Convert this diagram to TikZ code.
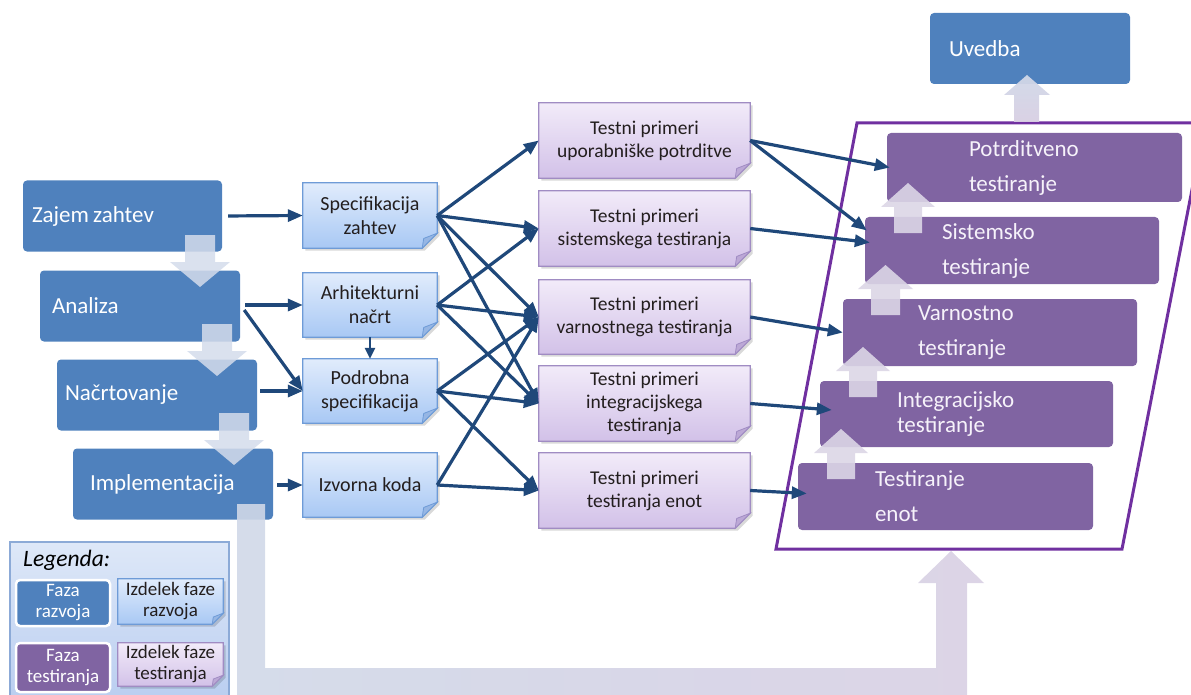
\documentclass[tikz,border=0pt]{standalone}
\usepackage{fontspec}
\setmainfont{Carlito}
\usetikzlibrary{calc,arrows.meta}
\pgfdeclarelayer{background}
\pgfsetlayers{background,main}

\definecolor{phaseblue}{RGB}{79,129,189}
\definecolor{testpurple}{RGB}{128,100,162}
\definecolor{frameviolet}{RGB}{112,48,160}
\definecolor{linkblue}{RGB}{31,72,122}
\definecolor{docbluetop}{RGB}{225,236,252}
\definecolor{docbluebot}{RGB}{168,200,244}
\definecolor{docblueline}{RGB}{110,155,215}
\definecolor{docbluefold}{RGB}{150,182,228}
\definecolor{docpurtop}{RGB}{242,235,249}
\definecolor{docpurbot}{RGB}{210,193,232}
\definecolor{docpurline}{RGB}{160,140,195}
\definecolor{docpurfold}{RGB}{188,168,214}
\definecolor{flowblue}{RGB}{208,216,232}
\definecolor{flowlilac}{RGB}{216,207,227}
\definecolor{chevronfill}{RGB}{212,220,235}
\definecolor{upfill}{RGB}{220,214,230}
\definecolor{legendtop}{RGB}{222,232,248}
\definecolor{legendbot}{RGB}{186,206,240}
\definecolor{legendline}{RGB}{140,170,215}
\definecolor{doctext}{RGB}{35,30,30}
\definecolor{lighttext}{RGB}{246,242,250}

% background of a document node: shadow, shaded sheet with a cut corner, folded flap
\newcommand{\docback}[3]{% #1 node name, #2 colour family, #3 fold size
  \begin{pgfonlayer}{background}
    \fill[black,opacity=0.15] ($(#1.north west)+(2.5,2.5)$) -- ($(#1.north east)+(2.5,2.5)$)
      -- ($(#1.south east)+(2.5,2.5-#3)$) -- ($(#1.south east)+(2.5-#3,2.5)$)
      -- ($(#1.south west)+(2.5,2.5)$) -- cycle;
    \shade[top color=#2top, bottom color=#2bot] (#1.north west) -- (#1.north east)
      -- ($(#1.south east)+(0,-#3)$) -- ($(#1.south east)+(-#3,0)$) -- (#1.south west) -- cycle;
    \draw[#2line, line width=1.2pt] (#1.north west) -- (#1.north east)
      -- ($(#1.south east)+(0,-#3)$) -- ($(#1.south east)+(-#3,0)$) -- (#1.south west) -- cycle;
    \filldraw[fill=#2fold, draw=#2line, line width=0.8pt] ($(#1.south east)+(-#3,0)$)
      -- ($(#1.south east)+(0,-#3)$) -- ($(#1.south east)+(-0.9*#3,-0.65*#3)$) -- cycle;
  \end{pgfonlayer}}

\tikzset{
  phasebox/.style={fill=phaseblue, rounded corners=4pt, text=white,
    font=\fontsize{23}{28}\selectfont, align=left, inner ysep=0pt,
    minimum height=71pt},
  testbox/.style={fill=testpurple, rounded corners=4pt, text=lighttext,
    font=\fontsize{23}{35}\selectfont, align=left, inner ysep=0pt,
    minimum height=68pt},
  devdoc/.style={text=doctext, align=center, inner sep=0pt,
    font=\fontsize{20}{24}\selectfont, minimum width=134pt, minimum height=64pt},
  testdoc/.style={text=doctext, align=center, inner sep=0pt,
    font=\fontsize{19.5}{23}\selectfont, minimum width=211pt, minimum height=75pt},
  legphase/.style={draw=white, line width=2.5pt, rounded corners=4pt, text=white,
    align=center, inner sep=0pt, font=\fontsize{19}{21}\selectfont,
    minimum width=94pt},
  legdoc/.style={text=doctext, align=center, inner sep=0pt,
    font=\fontsize{19}{21}\selectfont, minimum width=105pt},
  link/.style={draw=linkblue, line width=3.2pt, -{Triangle[length=15pt,width=12pt]}},
  chevron/.style={fill=chevronfill, opacity=0.85},
  upstep/.style={fill=upfill, opacity=0.9},
}

\begin{document}
\begin{tikzpicture}[x=1pt,y=-1pt]
\useasboundingbox (0,0) rectangle (1191,695);

% frame round the test phases
\draw[frameviolet, line width=3pt, line join=miter] (857,123) -- (1205,123) -- (1122,549) -- (776,549) -- cycle;

% development phases
\node[phasebox, inner xsep=9pt,  text width=181pt] (z) at (122.5,216) {Zajem\hspace{0.18em}zahtev};
\node[phasebox, inner xsep=12pt, text width=176pt] (a) at (140,306) {Analiza};
\node[phasebox, inner xsep=8pt,  text width=184pt] (n) at (157,395) {Načrtovanje};
\node[phasebox, inner xsep=17pt, text width=166pt] (i) at (173,484) {Implementacija};

% flow between development phases
\fill[chevron] (185,235) -- (215,235) -- (215,262) -- (230,262) -- (200,287) -- (170,262) -- (185,262) -- cycle;
\fill[chevron] (202,324) -- (232,324) -- (232,351) -- (247,351) -- (217,376) -- (187,351) -- (202,351) -- cycle;
\fill[chevron] (219,413) -- (249,413) -- (249,440) -- (264,440) -- (234,465) -- (204,440) -- (219,440) -- cycle;

% test phases
\node[testbox, inner xsep=82pt, text width=131pt, minimum height=69pt] (p1) at (1034.5,167.5) {Potrditveno\\testiranje};
\node[testbox, inner xsep=77pt, text width=140pt, minimum height=67pt] (p2) at (1012,250.5) {Sistemsko\\testiranje};
\node[testbox, inner xsep=75pt, text width=144pt, minimum height=67pt] (p3) at (990,332.5) {Varnostno\\testiranje};
\node[testbox, inner xsep=77pt, text width=139pt, minimum height=66pt,
      font=\fontsize{23}{25}\selectfont] (p4) at (966.5,414) {Integracijsko\\testiranje};
\node[testbox, inner xsep=77pt, text width=141pt, minimum height=67pt] (p5) at (945.5,496.5) {Testiranje\\enot};

% flow between test phases
\fill[upstep] (894,233) -- (922,233) -- (922,207) -- (935,207) -- (908,183) -- (881,207) -- (894,207) -- cycle;
\fill[upstep] (871,315) -- (900,315) -- (900,289) -- (913,289) -- (885.5,265) -- (858,289) -- (871,289) -- cycle;
\fill[upstep] (849,397) -- (877,397) -- (877,371) -- (890,371) -- (863,347) -- (836,371) -- (849,371) -- cycle;
\fill[upstep] (827,479) -- (855,479) -- (855,453) -- (868,453) -- (841,429) -- (814,453) -- (827,453) -- cycle;

% deployment
\node[phasebox, inner xsep=19pt, text width=162pt] (u) at (1030,48.5) {Uvedba};
\shade[top color=flowblue, bottom color=flowlilac, opacity=0.95]
  (1014,122) -- (1039,122) -- (1039,95) -- (1050,95) -- (1027,75) -- (1004,95) -- (1014,95) -- cycle;

% implementation feeding the test phases
\shade[left color=flowblue, right color=flowlilac, opacity=0.9]
  (237,504) -- (265,504) -- (265,668) -- (936,668) -- (936,583) -- (918,583) -- (951,551)
  -- (984,583) -- (967,583) -- (967,695) -- (237,695) -- cycle;

% development artefacts
\node[devdoc, minimum height=65pt] (d1) at (370,215.5) {Specifikacija\\zahtev};
\node[devdoc] (d2) at (370,305) {Arhitekturni\\načrt};
\node[devdoc] (d3) at (370,391) {Podrobna\\specifikacija};
\node[devdoc] (d4) at (370,485) {Izvorna koda};
\foreach \d in {d1,d2,d3,d4} {\docback{\d}{docblue}{15}}

% test artefacts
\node[testdoc] (t1) at (644.5,140.5) {Testni primeri\\uporabniške potrditve};
\node[testdoc] (t2) at (644.5,228.5) {Testni primeri\\sistemskega testiranja};
\node[testdoc, minimum height=74pt] (t3) at (644.5,317) {Testni primeri\\varnostnega testiranja};
\node[testdoc] (t4) at (644.5,403.5) {Testni primeri\\integracijskega\\testiranja};
\node[testdoc] (t5) at (644.5,490.5) {Testni primeri\\testiranja enot};
\foreach \t in {t1,t2,t3,t4,t5} {\docback{\t}{docpur}{15}}

% legend
\begin{pgfonlayer}{background}
  \shade[top color=legendtop, bottom color=legendbot] (10,542) rectangle (229,698);
  \draw[legendline, line width=1.2pt] (10,698) -- (10,542) -- (229,542) -- (229,698);
\end{pgfonlayer}
\node[anchor=west, font=\fontsize{23.5}{27}\selectfont\itshape, text=black, inner sep=0pt] (legtitle) at (23,560) {Legenda:};
\node[legphase, fill=phaseblue, minimum height=46pt] (l1) at (63,603) {Faza\\razvoja};
\node[legdoc, minimum height=45pt] (l2) at (170.5,601.5) {Izdelek faze\\razvoja};
\node[legphase, fill=testpurple, minimum height=49pt] (l3) at (63,667.5) {Faza\\testiranja};
\node[legdoc, minimum height=43pt] (l4) at (170.5,664.5) {Izdelek faze\\testiranja};
\docback{l2}{docblue}{11}
\docback{l4}{docpur}{11}

% phases to development artefacts
\draw[link, shorten <=6pt] (z.east) -- (d1.west);
\draw[link, shorten <=5pt] (a.east |- d2.west) -- (d2.west);
\draw[link] ($(a.east)+(4,4)$) -- (d3.west);
\draw[link, shorten <=3pt] (n.east |- d3.west) -- (d3.west);
\draw[link, shorten <=4pt] (i.east |- d4.west) -- (d4.west);
\draw[link, line width=2.4pt, -{Triangle[length=11pt,width=10pt]}] (d2.south) -- (d3.north);

% development artefacts to test artefacts
\foreach \s/\t in {d1/t1,d1/t2,d1/t3,d1/t4,d2/t2,d2/t3,d2/t4,d3/t3,d3/t4,d3/t5,d4/t3,d4/t5}
  {\draw[link] (\s.east) -- (\t.west);}

% test artefacts to test phases
\draw[link] (t1.east) -- ($(p1.west)+(3,0)$);
\draw[link] (t1.east) -- ($(p2.west)+(2,-20)$);
\draw[link] (t2.east) -- ($(p2.west)+(5,-8)$);
\draw[link] (t3.east) -- (p3.west);
\draw[link] (t4.east) -- ($(p4.west)+(12,-4)$);
\draw[link] (t5.east) -- ($(p5.west)+(9,-3)$);
\end{tikzpicture}
\end{document}
